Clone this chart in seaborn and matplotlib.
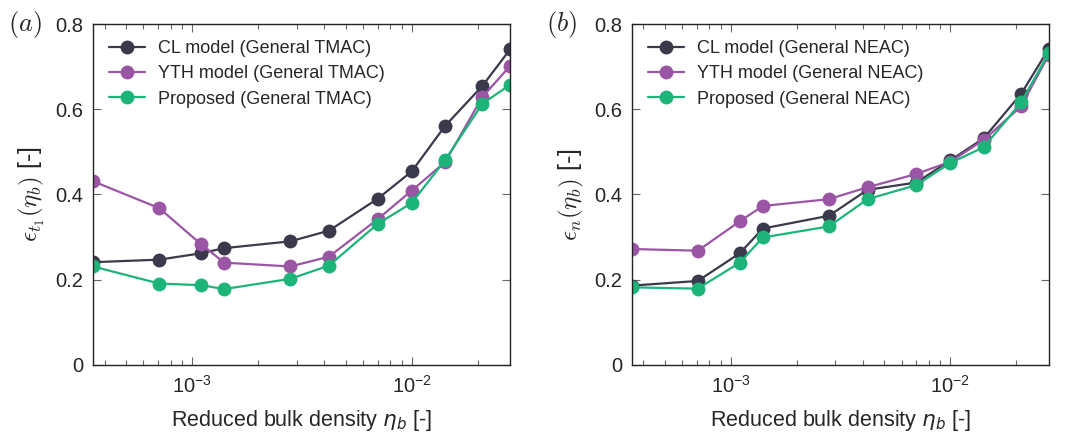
import pandas as pd
import numpy as np
import matplotlib
matplotlib.use("Agg")
import matplotlib.pyplot as plt
import seaborn as sns
from matplotlib.ticker import LogLocator, NullFormatter

# Data
eta_b = [3.54e-4, 7.08e-4, 1.1e-3, 1.4e-3, 2.8e-3, 4.2e-3, 7.0e-3, 1.0e-2, 1.42e-2, 2.1e-2, 2.81e-2]

tmac_cl = [0.241, 0.247, 0.262, 0.274, 0.290, 0.315, 0.390, 0.454, 0.561, 0.655, 0.741]
tmac_yth = [0.431, 0.368, 0.283, 0.240, 0.231, 0.254, 0.342, 0.409, 0.476, 0.629, 0.702]
tmac_prop = [0.231, 0.191, 0.187, 0.178, 0.202, 0.233, 0.331, 0.380, 0.481, 0.613, 0.658]

neac_cl = [0.186, 0.197, 0.262, 0.320, 0.350, 0.411, 0.428, 0.480, 0.532, 0.636, 0.742]
neac_yth = [0.272, 0.268, 0.337, 0.373, 0.389, 0.417, 0.448, 0.477, 0.528, 0.607, 0.728]
neac_prop = [0.182, 0.179, 0.240, 0.299, 0.325, 0.389, 0.422, 0.474, 0.511, 0.616, 0.732]

colors = ["#3b3a4c", "#9b55a5", "#1db47a"]

sns.set_style("ticks")
plt.rcParams['font.family'] = ['Liberation Sans', 'DejaVu Sans']


def make_df(cl, yth, prop, tag):
    names = [f"CL model (General {tag})", f"YTH model (General {tag})", f"Proposed (General {tag})"]
    rows = []
    for name, vals in zip(names, [cl, yth, prop]):
        for x, y in zip(eta_b, vals):
            rows.append({"eta": x, "eps": y, "model": name})
    return pd.DataFrame(rows), names


fig = plt.figure(figsize=(10.67, 4.37), dpi=100)
ax1 = fig.add_axes([0.0872, 0.165, 0.391, 0.780])
ax2 = fig.add_axes([0.592, 0.165, 0.391, 0.780])

panels = [
    (ax1, tmac_cl, tmac_yth, tmac_prop, "TMAC", r"$\epsilon_{t_1}(\eta_b)$ [-]", r"$(a)$"),
    (ax2, neac_cl, neac_yth, neac_prop, "NEAC", r"$\epsilon_n(\eta_b)$ [-]", r"$(b)$"),
]

for ax, cl, yth, prop, tag, ylab, plab in panels:
    df, names = make_df(cl, yth, prop, tag)
    sns.lineplot(data=df, x="eta", y="eps", hue="model", hue_order=names,
                 palette=colors, marker="o", markersize=10, markeredgewidth=0,
                 linewidth=1.6, ax=ax)
    ax.set_xscale("log")
    ax.xaxis.set_minor_locator(LogLocator(base=10, subs=np.arange(2, 10), numticks=20))
    ax.xaxis.set_minor_formatter(NullFormatter())
    ax.set_xlim(eta_b[0], eta_b[-1])
    ax.set_ylim(0, 0.8)
    ax.set_yticks([0, 0.2, 0.4, 0.6, 0.8])
    ax.set_yticklabels(["0", "0.2", "0.4", "0.6", "0.8"])
    ax.tick_params(which="both", direction="in", top=True, right=True,
                   color="#666666", width=0.8, labelsize=14.5, pad=7)
    ax.tick_params(which="major", length=6)
    ax.tick_params(which="minor", length=3.5, width=0.8)
    for s in ax.spines.values():
        s.set_color("#222222")
        s.set_linewidth(1.0)
    ax.set_xlabel(r"Reduced bulk density $\eta_b$ [-]", fontsize=15.5, labelpad=8)
    ax.set_ylabel(ylab, fontsize=18, labelpad=6, math_fontfamily="cm")
    leg = ax.legend(loc="upper left", frameon=False, fontsize=13,
                    handlelength=2.0, borderaxespad=0.5, labelspacing=0.45,
                    handletextpad=0.7)
    ax.text(-0.205, 1.0, plab, transform=ax.transAxes, fontsize=19,
            math_fontfamily="cm", va="center", ha="left")

fig.savefig("out.png", dpi=100)
